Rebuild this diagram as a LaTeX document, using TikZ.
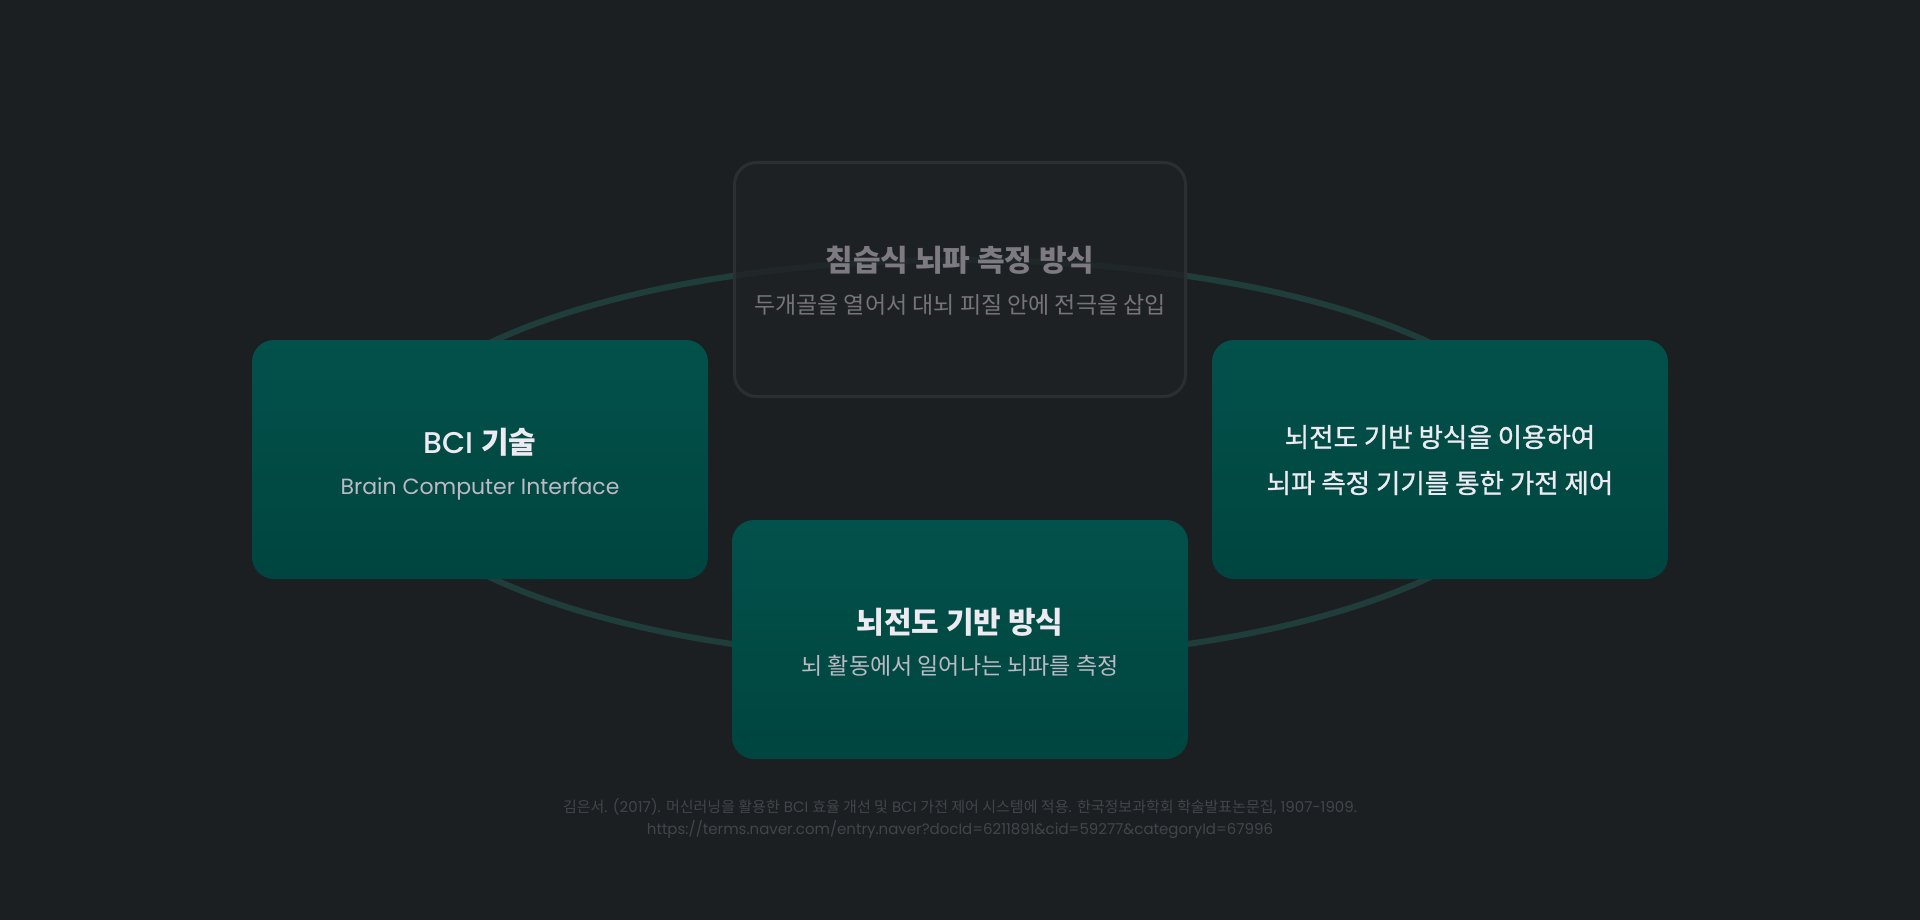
\documentclass[tikz,border=0pt]{standalone}
\usepackage{fontspec}
\setmainfont{Poppins}[BoldFont={Poppins Medium}]
\newfontfamily\kr{Noto Sans CJK KR}
\newfontfamily\krmid[FakeBold=1.2]{Noto Sans CJK KR}
\usepackage{tikz}
\usetikzlibrary{positioning}

\definecolor{bgdark}{HTML}{1C1F22}
\definecolor{boxtop}{HTML}{03514B}
\definecolor{boxbot}{HTML}{00453F}
\definecolor{ringteal}{HTML}{1F3D3B}
\definecolor{ghostfill}{HTML}{1F2225}
\definecolor{ghostline}{HTML}{2C2F32}
\definecolor{titlewhite}{HTML}{EEEAF2}
\definecolor{subgrey}{HTML}{BDB9C5}
\definecolor{ghosttext}{HTML}{7D7B81}
\definecolor{ghostsub}{HTML}{76747A}
\definecolor{notegrey}{HTML}{424549}

\begin{document}
\begin{tikzpicture}[x=1pt,y=-1pt,
    greenbox/.style={rounded corners=22pt, top color=boxtop, bottom color=boxbot,
        minimum width=456pt, minimum height=239pt, inner sep=0pt},
    ghostbox/.style={rounded corners=22pt, fill=ghostfill, fill opacity=0.78,
        draw=ghostline, line width=3pt, minimum width=451pt, minimum height=234pt, inner sep=0pt},
    headtext/.style={anchor=base, inner sep=0pt, text=titlewhite,
        font=\fontsize{30}{36}\selectfont\bfseries},
    subtext/.style={anchor=base, inner sep=0pt, text=subgrey,
        font=\fontsize{22}{27}\selectfont},
    notetext/.style={anchor=base, inner sep=0pt, text=notegrey,
        font=\fontsize{15}{18}\selectfont}]

% Background
\fill[bgdark] (0,0) rectangle (1920,920);
\useasboundingbox (0,0) rectangle (1920,920);

% Ring behind the boxes
\draw[ringteal, line width=6pt] (960,460) ellipse [x radius=580, y radius=200];

% Invasive method (faded, top)
\node[ghostbox] (invasive) at (960,279.5) {};
\node[headtext, text=ghosttext] (invhead) at (960,271) {\kr\bfseries 침습식 뇌파 측정 방식};
\node[subtext, text=ghostsub] (invsub) at (960,313) {\kr\fontsize{23}{28}\selectfont 두개골을 열어서 대뇌 피질 안에 전극을 삽입};

% BCI (left)
\node[greenbox] (bci) at (480,459.5) {};
\node[headtext] (bcihead) at (480,453) {BCI {\kr\bfseries 기술}};
\node[subtext] (bcisub) at (480,494) {Brain Computer Interface};

% EEG based method (bottom)
\node[greenbox] (eeg) at (960,639.5) {};
\node[headtext] (eeghead) at (960,633) {\kr\bfseries 뇌전도 기반 방식};
\node[subtext] (eegsub) at (960,674) {\kr\fontsize{23}{28}\selectfont 뇌 활동에서 일어나는 뇌파를 측정};

% Appliance control (right)
\node[greenbox] (appliance) at (1440,459.5) {};
\node[headtext] (applone) at (1440,447) {\krmid\mdseries\fontsize{26.5}{30}\selectfont 뇌전도 기반 방식을 이용하여};
\node[headtext] (appltwo) at (1440,493) {\krmid\mdseries\fontsize{26.5}{30}\selectfont 뇌파 측정 기기를 통한 가전 제어};

% Source note
\node[notetext] (noteone) at (960,812) {{\kr 김은서}. (2017). {\kr 머신러닝을 활용한} BCI {\kr 효율 개선 및} BCI {\kr 가전 제어 시스템에 적용}. {\kr 한국정보과학회 학술발표논문집}, 1907-1909.};
\node[notetext] (notetwo) at (960,834) {https://terms.naver.com/entry.naver?docId=6211891\&cid=59277\&categoryId=67996};

\end{tikzpicture}
\end{document}
